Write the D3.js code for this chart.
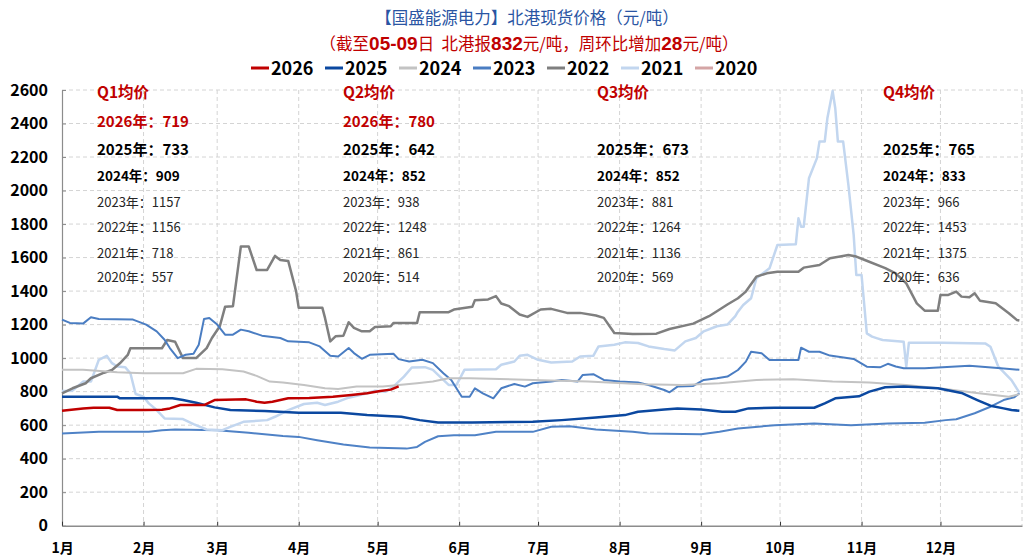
<!DOCTYPE html>
<html lang="zh">
<head>
<meta charset="utf-8">
<title>北港现货价格</title>
<script src="https://cdn.jsdelivr.net/npm/d3@7"></script>
<style>
body { margin: 0; background: #fff; }
svg text { font-family: "Noto Sans CJK SC", "Liberation Sans", sans-serif; }
</style>
</head>
<body>
<script>

// ---- data ----
var seriesNames = ["2026", "2025", "2024", "2023", "2022", "2021", "2020"];

var s2026 = [["01-01",686],["01-09",700],["01-13",704],["01-19",704],["01-22",690],["02-01",690],["02-08",692],["02-11",700],["02-15",720],["02-24",720],["02-28",750],["03-12",754],["03-16",740],["03-19",734],["03-22",740],["03-28",760],["04-05",762],["04-14",770],["04-21",780],["04-27",790],["05-02",804],["05-06",812],["05-09",832]];

var s2025 = [["01-01",770],["01-22",770],["01-23",760],["02-12",760],["02-16",750],["02-21",734],["02-28",706],["03-06",690],["03-19",684],["04-01",674],["04-17",674],["04-27",660],["05-10",650],["05-17",630],["05-24",616],["06-06",616],["06-29",620],["07-10",630],["07-23",646],["08-03",660],["08-08",680],["08-18",694],["08-23",700],["09-01",694],["09-09",680],["09-14",680],["09-19",700],["09-29",704],["10-14",704],["10-18",730],["10-22",760],["10-31",772],["11-04",800],["11-10",826],["11-17",830],["11-30",820],["12-09",792],["12-15",750],["12-20",716],["12-25",700],["12-28",690],["12-31",686]];

var s2024 = [["01-01",930],["01-09",930],["01-22",916],["02-01",910],["02-16",910],["02-21",936],["03-03",934],["03-11",920],["03-16",894],["03-21",860],["03-26",854],["04-03",840],["04-11",820],["04-16",816],["04-23",830],["05-03",830],["05-16",850],["05-22",860],["05-28",880],["06-05",880],["06-29",870],["07-20",860],["08-10",844],["08-25",840],["09-08",850],["09-22",870],["10-06",874],["10-21",860],["11-04",854],["11-18",840],["12-02",818],["12-14",793],["12-27",770],["12-31",785]];

var s2023 = [["01-01",1230],["01-04",1210],["01-09",1206],["01-12",1244],["01-15",1234],["01-28",1230],["02-02",1200],["02-06",1160],["02-09",1110],["02-11",1060],["02-14",1000],["02-17",1020],["02-20",1026],["02-22",1080],["02-24",1234],["02-26",1240],["03-01",1200],["03-04",1140],["03-07",1140],["03-10",1170],["03-13",1160],["03-18",1134],["03-25",1120],["03-28",1100],["04-05",1094],["04-09",1070],["04-13",1014],["04-16",1010],["04-20",1060],["04-22",1030],["04-25",996],["04-28",1020],["05-07",1026],["05-09",994],["05-13",980],["05-18",990],["05-22",970],["05-26",910],["05-29",870],["06-02",770],["06-05",770],["06-07",820],["06-10",790],["06-14",760],["06-17",820],["06-22",846],["06-26",830],["06-29",850],["07-06",860],["07-10",870],["07-16",860],["07-18",900],["07-22",904],["07-26",870],["08-01",860],["08-08",854],["08-12",840],["08-18",810],["08-20",796],["08-23",830],["08-29",834],["09-02",870],["09-07",880],["09-11",890],["09-15",929],["09-18",979],["09-20",1038],["09-24",1029],["09-27",989],["10-08",989],["10-09",1062],["10-12",1038],["10-16",1038],["10-20",1015],["10-29",995],["11-03",949],["11-08",945],["11-11",966],["11-14",950],["11-17",940],["11-25",940],["12-12",954],["12-24",940],["12-31",930]];

var s2022 = [["01-01",790],["01-05",820],["01-10",850],["01-12",880],["01-17",913],["01-20",929],["01-23",969],["01-26",1019],["01-27",1059],["02-08",1059],["02-10",1108],["02-13",1098],["02-16",1000],["02-21",1000],["02-25",1060],["02-27",1120],["03-02",1190],["03-04",1306],["03-07",1310],["03-10",1666],["03-13",1666],["03-16",1526],["03-20",1526],["03-23",1610],["03-25",1586],["03-28",1580],["03-31",1400],["04-01",1300],["04-10",1300],["04-11",1240],["04-13",1100],["04-15",1130],["04-18",1134],["04-20",1214],["04-22",1180],["04-25",1160],["04-28",1160],["04-30",1186],["05-06",1190],["05-07",1210],["05-16",1210],["05-17",1274],["05-28",1274],["05-30",1290],["06-06",1306],["06-07",1346],["06-12",1350],["06-15",1370],["06-17",1326],["06-20",1310],["06-24",1260],["06-27",1246],["07-02",1290],["07-06",1294],["07-12",1270],["07-17",1270],["07-23",1254],["07-26",1240],["07-30",1150],["08-06",1144],["08-15",1146],["08-20",1174],["08-29",1206],["09-04",1250],["09-07",1280],["09-11",1320],["09-15",1357],["09-18",1397],["09-22",1486],["09-26",1506],["09-30",1516],["10-08",1516],["10-10",1540],["10-16",1556],["10-20",1596],["10-27",1615],["10-30",1606],["11-02",1587],["11-10",1537],["11-14",1506],["11-18",1446],["11-22",1327],["11-25",1283],["11-30",1283],["12-01",1377],["12-04",1377],["12-07",1397],["12-09",1367],["12-12",1363],["12-14",1387],["12-16",1343],["12-22",1327],["12-27",1268],["12-30",1228],["12-31",1225]];

var s2021 = [["01-01",804],["01-05",806],["01-09",860],["01-12",860],["01-15",990],["01-18",1014],["01-20",970],["01-22",950],["01-25",946],["01-27",910],["01-29",786],["02-01",770],["02-03",730],["02-06",690],["02-09",640],["02-16",636],["02-20",606],["02-25",574],["03-03",570],["03-06",590],["03-11",620],["03-20",630],["03-23",650],["03-28",690],["04-03",726],["04-08",734],["04-11",720],["04-16",740],["04-20",764],["04-27",790],["04-30",806],["05-04",800],["05-07",830],["05-11",890],["05-14",944],["05-19",946],["05-22",930],["05-26",870],["05-28",840],["05-31",840],["06-02",900],["06-03",930],["06-15",934],["06-17",960],["06-22",980],["06-24",1014],["06-27",1020],["07-01",990],["07-06",974],["07-14",980],["07-17",1010],["07-22",1014],["07-24",1070],["07-30",1080],["08-03",1094],["08-08",1090],["08-12",1070],["08-18",1054],["08-22",1046],["08-26",1100],["08-30",1120],["09-02",1160],["09-07",1190],["09-11",1200],["09-14",1250],["09-15",1277],["09-17",1317],["09-20",1357],["09-22",1476],["09-24",1500],["09-27",1536],["09-30",1675],["10-07",1679],["10-08",1834],["10-09",1784],["10-10",1784],["10-12",2073],["10-15",2192],["10-16",2292],["10-18",2292],["10-19",2431],["10-21",2594],["10-22",2491],["10-23",2292],["10-25",2292],["10-27",2032],["10-29",1735],["10-30",1496],["11-01",1496],["11-03",1148],["11-05",1128],["11-07",1118],["11-09",1108],["11-17",1098],["11-18",949],["11-19",1092],["12-02",1092],["12-18",1088],["12-20",1068],["12-23",949],["12-28",869],["12-31",794]];

var s2020 = [["01-01",550],["01-09",556],["01-15",560],["02-03",560],["02-08",570],["02-13",574],["03-01",570],["03-13",554],["03-26",536],["04-01",530],["04-08",510],["04-18",484],["04-28",466],["05-12",460],["05-16",470],["05-19",500],["05-24",534],["05-30",540],["06-07",540],["06-15",560],["06-29",560],["07-06",590],["07-13",594],["07-23",574],["08-06",560],["08-12",550],["09-01",546],["09-08",560],["09-15",580],["09-29",600],["10-14",610],["10-28",600],["11-11",610],["11-25",614],["12-03",630],["12-07",635],["12-14",671],["12-20",710],["12-25",750],["12-29",766],["12-31",790]];

var yTicks = [0, 200, 400, 600, 800, 1000, 1200, 1400, 1600, 1800, 2000, 2200, 2400, 2600];

var quarterLabels = ["Q1均价", "Q2均价", "Q3均价", "Q4均价"];
var avg2026 = [719, 780, null, null];
var avg2025 = [733, 642, 673, 765];
var avg2024 = [909, 852, 852, 833];
var avg2023 = [1157, 938, 881, 966];
var avg2022 = [1156, 1248, 1264, 1453];
var avg2021 = [718, 861, 1136, 1375];
var avg2020 = [557, 514, 569, 636];

// ---- styles ----
var lineStyle = {
  "2026": {color: "#c00000", legend: "#c00000", width: 2.5},
  "2025": {color: "#0b48a0", legend: "#0b48a0", width: 2.5},
  "2024": {color: "#c3c3c3", legend: "#c3c3c3", width: 2},
  "2023": {color: "#4a7dc2", legend: "#4a7dc2", width: 2},
  "2022": {color: "#7f7f7f", legend: "#7f7f7f", width: 2.5},
  "2021": {color: "#c2d6ef", legend: "#c2d6ef", width: 2.5},
  "2020": {color: "#4f82c6", legend: "#d4a5a5", width: 2}
};

var width = 1032, height = 559;
var plotLeft = 62, plotRight = 1022, plotTop = 90, plotBottom = 525.7;

var svg = d3.select("body").append("svg")
            .attr("width", width)
            .attr("height", height);

var parseDate = d3.timeParse("%Y-%m-%d");
function toPoints(arr) {
  return arr.map(function(d) { return {date: parseDate("2025-" + d[0]), value: d[1]}; });
}

var x = d3.scaleTime()
          .domain([new Date(2025, 0, 1), new Date(2026, 0, 1)])
          .range([plotLeft, plotRight]);
var y = d3.scaleLinear().domain([0, 2600]).range([plotBottom, plotTop]);

// grid
var grid = svg.append("g");
grid.selectAll("line.h")
    .data(yTicks.filter(function(d) { return d > 0; }))
    .enter().append("line")
    .attr("class", "h")
    .attr("x1", plotLeft).attr("x2", plotRight)
    .attr("y1", function(d) { return y(d); })
    .attr("y2", function(d) { return y(d); })
    .attr("stroke", "#d4d4d4")
    .attr("stroke-dasharray", "4,3");

var monthStarts = d3.timeMonth.range(new Date(2025, 1, 1), new Date(2026, 0, 2));
grid.selectAll("line.v")
    .data(monthStarts)
    .enter().append("line")
    .attr("class", "v")
    .attr("x1", function(d) { return x(d); })
    .attr("x2", function(d) { return x(d); })
    .attr("y1", plotTop).attr("y2", plotBottom)
    .attr("stroke", "#d4d4d4")
    .attr("stroke-dasharray", "4,3");

// axes
var yAxis = svg.append("g")
   .attr("transform", "translate(" + plotLeft + ",0)")
   .call(d3.axisLeft(y).tickValues(yTicks).tickFormat(d3.format("d"))
           .tickSizeInner(-4).tickSizeOuter(0).tickPadding(14));
yAxis.select(".domain").attr("stroke", "#8c8c8c").attr("stroke-width", 1.2);
yAxis.selectAll(".tick line").attr("stroke", "#8c8c8c");
yAxis.selectAll("text")
     .attr("font-family", "'Liberation Sans', Arial, sans-serif")
     .attr("font-weight", "bold")
     .attr("font-size", 16)
     .attr("fill", "#000");

var xAxis = svg.append("g")
   .attr("transform", "translate(0," + plotBottom + ")")
   .call(d3.axisBottom(x)
           .ticks(d3.timeMonth.every(1))
           .tickFormat(function(d) { return (d.getMonth() + 1) + "月"; })
           .tickSizeInner(-4).tickSizeOuter(0).tickPadding(17));
xAxis.select(".domain").attr("stroke", "#8c8c8c").attr("stroke-width", 1.6);
xAxis.selectAll(".tick line").attr("stroke", "#333");
xAxis.selectAll(".tick")
     .filter(function(d) { return d.getFullYear() > 2025; })
     .remove();
xAxis.selectAll("text")
     .attr("font-family", "'Liberation Sans', 'Noto Sans CJK SC', sans-serif")
     .attr("font-weight", "bold")
     .attr("font-size", 14)
     .attr("fill", "#000");

// lines
var line = d3.line()
             .x(function(d) { return x(d.date); })
             .y(function(d) { return y(d.value); });

var seriesData = {"2026": s2026, "2025": s2025, "2024": s2024, "2023": s2023,
                  "2022": s2022, "2021": s2021, "2020": s2020};

seriesNames.slice().reverse().forEach(function(name) {
  svg.append("path")
     .datum(toPoints(seriesData[name]))
     .attr("d", line)
     .attr("fill", "none")
     .attr("stroke", lineStyle[name].color)
     .attr("stroke-width", lineStyle[name].width)
     .attr("stroke-linejoin", "round");
});

// title
svg.append("text")
   .attr("x", 527).attr("y", 24)
   .attr("text-anchor", "middle")
   .attr("font-size", 16.5)
   .attr("fill", "#2a55a3")
   .text("【国盛能源电力】北港现货价格（元/吨）");

var sub = svg.append("text")
   .attr("x", 529).attr("y", 50)
   .attr("text-anchor", "middle")
   .attr("font-size", 16.5)
   .attr("fill", "#c00000");
[["（截至", false], ["05-09", true], ["日\u00a0\u00a0北港报", false], ["832", true],
 ["元/吨，周环比增加", false], ["28", true], ["元/吨）", false]].forEach(function(p) {
  sub.append("tspan")
     .attr("font-weight", p[1] ? "bold" : "normal")
     .attr("font-size", p[1] ? 19 : 16.5)
     .attr("font-family", p[1] ? "'Liberation Sans', Arial, sans-serif" : null)
     .text(p[0]);
});

// legend
var legend = svg.append("g");
seriesNames.forEach(function(name, i) {
  var lx = 251 + i * 74;
  legend.append("line")
        .attr("x1", lx).attr("x2", lx + 18)
        .attr("y1", 68).attr("y2", 68)
        .attr("stroke", lineStyle[name].legend)
        .attr("stroke-width", 3);
  legend.append("text")
        .attr("x", lx + 20).attr("y", 74.5)
        .attr("font-family", "'Liberation Sans', Arial, sans-serif")
        .attr("font-weight", "bold")
        .attr("font-size", 18)
        .attr("fill", "#000")
        .text(name);
});

// quarter averages
var quarterX = [97, 343, 597, 883];
var avgRows = [avg2026, avg2025, avg2024, avg2023, avg2022, avg2021, avg2020];
var rowY = [121.7, 150, 176.7, 202.3, 227.7, 253.3, 277.7];
var rowStyle = [
  {fill: "#c00000", weight: "bold", size: 15},
  {fill: "#000", weight: "bold", size: 15},
  {fill: "#000", weight: "bold", size: 13.5},
  {fill: "#262626", weight: "normal", size: 13},
  {fill: "#262626", weight: "normal", size: 13},
  {fill: "#262626", weight: "normal", size: 13},
  {fill: "#262626", weight: "normal", size: 13}
];

quarterLabels.forEach(function(q, qi) {
  var g = svg.append("g");
  g.append("text")
   .attr("x", quarterX[qi]).attr("y", 93)
   .attr("dy", "0.35em")
   .attr("font-size", 15.5)
   .attr("font-weight", "bold")
   .attr("fill", "#c00000")
   .text(q);
  avgRows.forEach(function(arr, ri) {
    if (arr[qi] == null) return;
    g.append("text")
     .attr("x", quarterX[qi]).attr("y", rowY[ri])
     .attr("dy", "0.35em")
     .attr("font-size", rowStyle[ri].size)
     .attr("font-weight", rowStyle[ri].weight)
     .attr("fill", rowStyle[ri].fill)
     .text(seriesNames[ri] + "年：" + arr[qi]);
  });
});

</script>
</body>
</html>
